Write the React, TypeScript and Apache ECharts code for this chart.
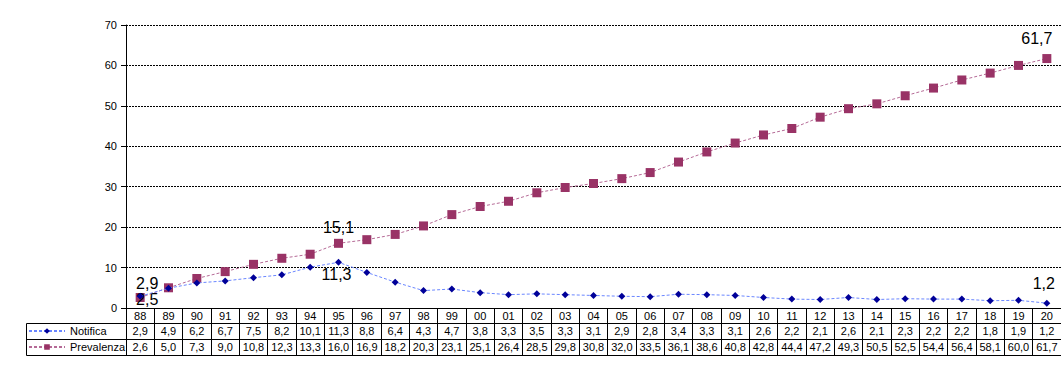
import React, { useEffect, useRef } from "react";
import * as echarts from "echarts";

const years = ["88","89","90","91","92","93","94","95","96","97","98","99","00","01","02","03","04","05","06","07","08","09","10","11","12","13","14","15","16","17","18","19","20"];
const notifica = [2.9,4.9,6.2,6.7,7.5,8.2,10.1,11.3,8.8,6.4,4.3,4.7,3.8,3.3,3.5,3.3,3.1,2.9,2.8,3.4,3.3,3.1,2.6,2.2,2.1,2.6,2.1,2.3,2.2,2.2,1.8,1.9,1.2];
const prevalenza = [2.6,5.0,7.3,9.0,10.8,12.3,13.3,16.0,16.9,18.2,20.3,23.1,25.1,26.4,28.5,29.8,30.8,32.0,33.5,36.1,38.6,40.8,42.8,44.4,47.2,49.3,50.5,52.5,54.4,56.4,58.1,60.0,61.7];
const yTicks = { min: 0, max: 70, interval: 10 };

// callout labels shown on the chart (index, text)
const notificaCallouts = [
  { i: 0, text: "2,9", offset: [7, -13] },
  { i: 7, text: "11,3", offset: [-2, 12] },
  { i: 32, text: "1,2", offset: [-3, -20] },
];
const prevalenzaCallouts = [
  { i: 0, text: "2,5", offset: [7, 2] },
  { i: 7, text: "15,1", offset: [0, -16] },
  { i: 32, text: "61,7", offset: [-10, -20] },
];

const FONT = "Liberation Sans, Arial, sans-serif";
const fmt = (v: number) => v.toFixed(1).replace(".", ",");

function withCallouts(values: number[], callouts: { i: number; text: string; offset: number[] }[]) {
  return values.map((v, idx) => {
    const c = callouts.find((x) => x.i === idx);
    if (!c) return v;
    return {
      value: v,
      label: {
        show: true,
        position: "inside",
        offset: c.offset,
        formatter: c.text,
        color: "#000",
        fontSize: 16,
        fontFamily: FONT,
      },
    };
  });
}

function tableAxis(data: string[], offset: number, tickLen: number) {
  return {
    type: "category",
    data,
    position: "bottom",
    offset,
    boundaryGap: true,
    axisLine: { show: true, lineStyle: { color: "#000", width: 1 } },
    axisTick: { show: true, interval: 0, alignWithLabel: false, length: tickLen, lineStyle: { color: "#000" } },
    axisLabel: { interval: 0, margin: 2, fontSize: 11, color: "#000", fontFamily: FONT },
    splitLine: { show: false },
  };
}

export default function App() {
  const ref = useRef<HTMLDivElement>(null);
  useEffect(() => {
    if (!ref.current) return;
    const chart = echarts.init(ref.current, null, { renderer: "svg" });
    chart.setOption({
      animation: false,
      backgroundColor: "#fff",
      textStyle: { fontFamily: FONT },
      grid: { left: 126, right: 0, top: 25, bottom: 71, containLabel: false },
      legend: {
        data: ["Notifica", "Prevalenza"],
        orient: "vertical",
        left: 28,
        top: 325,
        padding: 0,
        itemWidth: 36,
        itemHeight: 7,
        itemGap: 4,
        textStyle: { fontSize: 11, color: "#000", fontFamily: FONT, lineHeight: 12 },
        selectedMode: false,
      },
      xAxis: [
        tableAxis(years, 0, 15),
        tableAxis(notifica.map(fmt), 15, 16),
        tableAxis(prevalenza.map(fmt), 31, 16),
      ],
      yAxis: {
        type: "value",
        min: yTicks.min,
        max: yTicks.max,
        interval: yTicks.interval,
        axisLine: { show: true, lineStyle: { color: "#000" } },
        axisTick: { show: true, length: 5, lineStyle: { color: "#000" } },
        axisLabel: { margin: 9, fontSize: 11, color: "#000", fontFamily: FONT },
        splitLine: { show: true, lineStyle: { color: "#000", type: [2, 1], width: 1 } },
      },
      graphic: [
        { type: "rect", shape: { x: 26.5, y: 323.5, width: 1040, height: 32 }, style: { fill: "none", stroke: "#000", lineWidth: 1 }, silent: true },
        { type: "line", shape: { x1: 26.5, y1: 339.5, x2: 126, y2: 339.5 }, style: { stroke: "#000", lineWidth: 1 }, silent: true },
      ],
      series: [
        {
          name: "Notifica",
          type: "line",
          xAxisIndex: 0,
          data: withCallouts(notifica, notificaCallouts),
          symbol: "diamond",
          symbolSize: 7,
          itemStyle: { color: "#000099" },
          lineStyle: { color: "#6a86ff", width: 1, type: [3, 2] },
          label: { show: false },
          z: 3,
        },
        {
          name: "Prevalenza",
          type: "line",
          xAxisIndex: 0,
          data: withCallouts(prevalenza, prevalenzaCallouts),
          symbol: "rect",
          symbolSize: 9,
          itemStyle: { color: "#993366" },
          lineStyle: { color: "#b56a96", width: 1, type: [3, 2] },
          label: { show: false },
          z: 2,
        },
      ],
    });
    return () => chart.dispose();
  }, []);
  return <div ref={ref} style={{ position: "fixed", left: 0, top: 0, width: 1061, height: 379 }} />;
}
